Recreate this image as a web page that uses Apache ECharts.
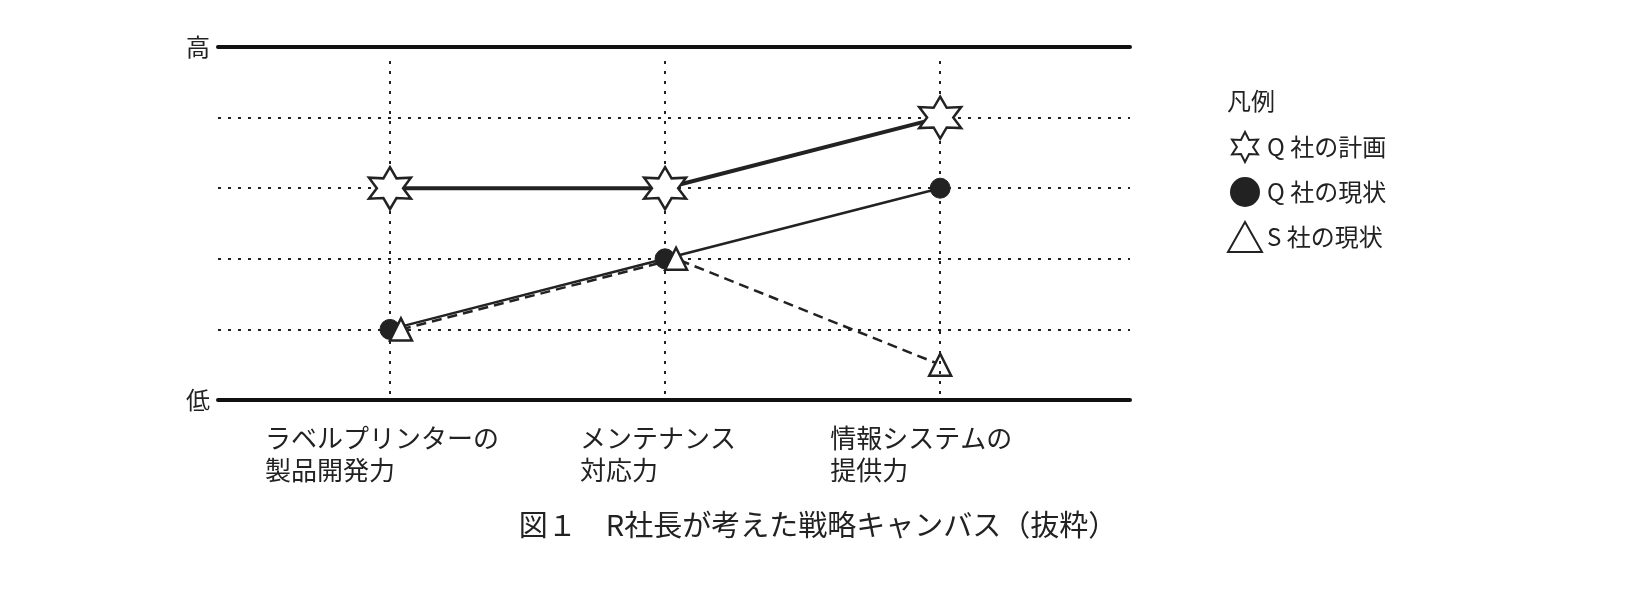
<!DOCTYPE html>
<html><head><meta charset="utf-8">
<script src="https://cdn.jsdelivr.net/npm/echarts@6/dist/echarts.min.js"></script>
<style>html,body{margin:0;background:#fff}#c{width:1636px;height:594px}</style>
</head><body><div id="c"></div>
<script>
const categories = ['ラベルプリンターの\n製品開発力', 'メンテナンス\n対応力', '情報システムの\n提供力'];
const catPos = [1, 2, 3];
const qPlan = [3, 3, 4];
const qNow = [1, 2, 3];
const sNow = [1, 2, 0.5];
const sPos = [1.04, 2.04, 3];
const yLabels = {0: '低', 5: '高'};

function hexagram() {
  let p = [];
  for (let k = 0; k < 12; k++) {
    const a = (-90 + 30 * k) * Math.PI / 180, r = k % 2 ? 5.4 : 10;
    p.push((10 + r * Math.cos(a)).toFixed(2) + ',' + (10 + r * Math.sin(a)).toFixed(2));
  }
  return 'path://M' + p.join('L') + 'Z';
}
const star = hexagram();
const font = '"Noto Sans CJK JP", sans-serif';
const widths = [250, 170, 220];
const rich = {};
widths.forEach((w, i) => rich['a' + i] = {width: w, align: 'left', fontSize: 26, lineHeight: 32, color: '#222', fontFamily: font});

const chart = echarts.init(document.getElementById('c'));
chart.setOption({
  animation: false,
  title: [
    {text: '図１　R社長が考えた戦略キャンバス（抜粋）', left: 'center', top: 505, textStyle: {fontSize: 29, fontWeight: 'normal', color: '#222', fontFamily: font}},
    {text: '凡例', left: 1222, top: 84, textStyle: {fontSize: 24, fontWeight: 'normal', color: '#222', fontFamily: font}}
  ],
  legend: {orient: 'vertical', left: 1222, top: 126, itemGap: 14, itemWidth: 34, itemHeight: 30,
    textStyle: {fontSize: 24, color: '#222', fontFamily: font},
    data: [{name: 'Q 社の計画', icon: star}, {name: 'Q 社の現状', icon: 'circle'}, {name: 'S 社の現状', icon: 'triangle'}]},
  grid: {left: 218, right: 506, top: 47, bottom: 194},
  xAxis: [{type: 'value', min: 0.375, max: 3.69, position: 'bottom',
    axisLine: {lineStyle: {color: '#111', width: 4}}, axisTick: {show: false}, splitLine: {show: false},
    axisLabel: {customValues: catPos, margin: 22, formatter: v => {
      const i = catPos.indexOf(v); if (i < 0) return '';
      return categories[i].split('\n').map(s => '{a' + i + '|' + s + '}').join('\n');
    }, rich: rich, align: 'center', verticalAlign: 'top'}},
    {type: 'value', min: 0.375, max: 3.69, position: 'top', axisLine: {lineStyle: {color: '#111', width: 4}}, axisTick: {show: false}, axisLabel: {show: false}, splitLine: {show: false}}],
  yAxis: {type: 'value', min: 0, max: 5, interval: 1, axisLine: {show: false}, axisTick: {show: false},
    axisLabel: {formatter: v => yLabels[v] || '', fontSize: 24, color: '#222', fontFamily: font, margin: 8},
    splitLine: {lineStyle: {type: [3, 7], color: '#222', width: 2}}},
  series: [
    {name: 'Q 社の計画', type: 'line', data: catPos.map((x, i) => [x, qPlan[i]]), symbol: star, symbolSize: 42, z: 5,
      lineStyle: {color: '#222', width: 4}, itemStyle: {color: '#fff', borderColor: '#222', borderWidth: 2.5},
      markLine: {silent: true, symbol: 'none', label: {show: false}, lineStyle: {type: [3, 7], color: '#222', width: 2},
        data: catPos.map(x => [{coord: [x, 4.8]}, {coord: [x, 0]}])}},
    {name: 'Q 社の現状', type: 'line', data: catPos.map((x, i) => [x, qNow[i]]), symbol: 'circle', symbolSize: 20, z: 3,
      lineStyle: {color: '#222', width: 2.5}, itemStyle: {color: '#222', borderColor: '#222'}},
    {name: 'S 社の現状', type: 'line', data: sPos.map((x, i) => [x, sNow[i]]), symbol: 'triangle', symbolSize: 22, z: 4,
      lineStyle: {color: '#222', width: 2.5, type: [10, 6]}, itemStyle: {color: '#fff', borderColor: '#222', borderWidth: 2.5}}
  ]
});
</script></body></html>
